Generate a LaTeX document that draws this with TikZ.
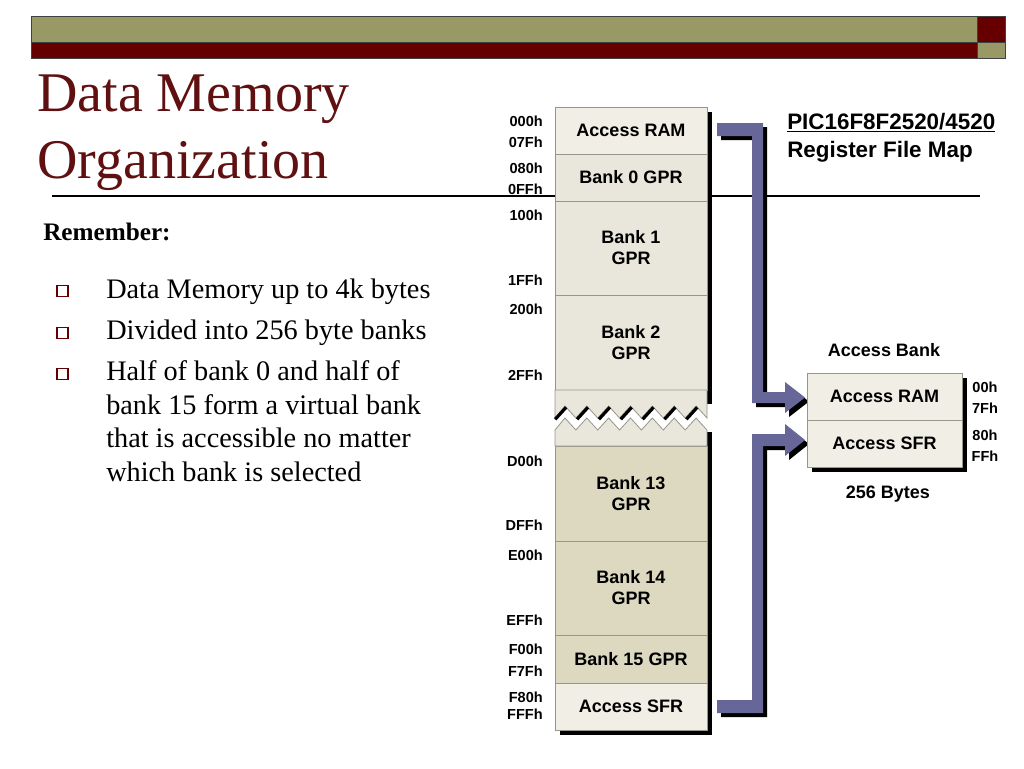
\documentclass[tikz,border=0pt]{standalone}
\usepackage{fontspec}
\setmainfont{Liberation Serif}
\newfontfamily\hv{Liberation Sans}
\usetikzlibrary{calc}
\definecolor{olivebar}{RGB}{153,153,102}
\definecolor{maroonbar}{RGB}{102,0,0}
\definecolor{titlecol}{RGB}{96,16,16}
\definecolor{arrowcol}{RGB}{102,102,153}
\definecolor{cellA}{RGB}{240,238,229}
\definecolor{cellB}{RGB}{233,231,219}
\definecolor{cellC}{RGB}{221,217,193}
\definecolor{divgray}{RGB}{150,150,138}
\tikzset{
  cellbox/.style={draw=divgray, line width=0.6pt, inner sep=0pt, minimum width=114pt,
    font=\hv\bfseries\fontsize{13.5}{15.75}\selectfont, align=center},
  addr/.style={font=\hv\bfseries\fontsize{10.9}{12}\selectfont, anchor=east, inner sep=0pt},
  raddr/.style={font=\hv\bfseries\fontsize{10.9}{12}\selectfont, inner sep=0pt},
  caption/.style={font=\hv\bfseries\fontsize{13.5}{15}\selectfont, inner sep=0pt},
  bullettext/.style={font=\fontsize{21.2}{25}\selectfont, anchor=base west, inner sep=0pt},
  bulletbox/.style={draw=maroonbar, line width=1.1pt, fill=white},
  band/.style={fill=arrowcol},
  bandshadow/.style={fill=black, shift={(4,4)}},
  barline/.style={draw=black!75, line width=0.7pt}
}
\begin{document}
\begin{tikzpicture}[x=0.75pt,y=-0.75pt]
\useasboundingbox (0,0) rectangle (1024,768);
% top bars
\fill[olivebar] (31,16) rectangle (977,42);
\fill[maroonbar] (31,42) rectangle (977,58);
\fill[maroonbar] (977,16) rectangle (1005,42);
\fill[olivebar] (977,42) rectangle (1005,58);
\draw[barline] (31,16) rectangle (1005,58);
\draw[barline] (31,42) -- (1005,42);
\draw[barline] (977,16) -- (977,58);
% title
\node[anchor=base west, inner sep=0pt, text=titlecol, font=\fontsize{42}{42}\selectfont] (t1) at (37,111) {Data Memory};
\node[anchor=base west, inner sep=0pt, text=titlecol, font=\fontsize{42}{42}\selectfont] (t2) at (37,178) {Organization};
\draw[line width=0.9pt] (52,196) -- (980,196);
% left text
\node[anchor=base west, inner sep=0pt, font=\bfseries\fontsize{18.9}{20}\selectfont] (rem) at (43,240) {Remember:};
\draw[bulletbox] (57,285.5) rectangle (68,296.5);
\draw[bulletbox] (57,327.5) rectangle (68,338.5);
\draw[bulletbox] (57,368.5) rectangle (68,379.5);
\node[bullettext] (l1) at (106,298) {Data Memory up to 4k bytes};
\node[bullettext] (l2) at (106,339) {Divided into 256 byte banks};
\node[bullettext] (l3) at (106,380) {Half of bank 0 and half of};
\node[bullettext] (l4) at (106,414) {bank 15 form a virtual bank};
\node[bullettext] (l5) at (106,447) {that is accessible no matter};
\node[bullettext] (l6) at (106,481) {which bank is selected};
% column shadow
\fill[black] (560,112) rectangle (712,735);
\fill[white] (550,404) rectangle (716,432);
% cells
\node[cellbox, fill=cellA, minimum height=35.25pt] (ar) at (631,130.5) {Access RAM};
\node[cellbox, fill=cellB, minimum height=35.25pt] (b0) at (631,177.5) {Bank 0 GPR};
\node[cellbox, fill=cellB, minimum height=70.5pt] (b1) at (631,248) {Bank 1\\GPR};
\node[cellbox, fill=cellB, minimum height=71.25pt] (b2) at (631,342.5) {Bank 2\\GPR};
\node[cellbox, fill=cellC, minimum height=71.25pt] (b13) at (631,493.5) {Bank 13\\GPR};
\node[cellbox, fill=cellC, minimum height=70.5pt] (b14) at (631,588) {Bank 14\\GPR};
\node[cellbox, fill=cellC, minimum height=36pt] (b15) at (631,659) {Bank 15 GPR};
\node[cellbox, fill=cellA, minimum height=35.25pt] (sfr) at (631,706.5) {Access SFR};
% broken section
\filldraw[fill=cellB, draw=divgray, line width=0.6pt] (555,390) -- (707,390) -- (707,418)
  -- (696.07,406) -- (685.14,418) -- (674.21,406) -- (663.29,418) -- (652.36,406)
  -- (641.43,418) -- (630.5,406) -- (619.57,418) -- (608.64,406) -- (597.71,418)
  -- (586.79,406) -- (575.86,418) -- (564.93,406) -- (555,418) -- cycle;
\filldraw[fill=cellB, draw=divgray, line width=0.6pt] (555,446) -- (555,430)
  -- (564.93,418) -- (575.86,430) -- (586.79,418) -- (597.71,430) -- (608.64,418)
  -- (619.57,430) -- (630.5,418) -- (641.43,430) -- (652.36,418) -- (663.29,430)
  -- (674.21,418) -- (685.14,430) -- (696.07,418) -- (707,430) -- (707,446) -- cycle;
\foreach \k in {0,...,6} {
  \draw[line width=2.4pt] ({555.2+21.857*\k},419.3) -- ({566.1+21.857*\k},407.3);
}
% addresses
\node[addr] (a000) at (543,121) {000h};
\node[addr] (a07f) at (543,142) {07Fh};
\node[addr] (a080) at (543,168) {080h};
\node[addr] (a0ff) at (543,189) {0FFh};
\node[addr] (a100) at (543,215) {100h};
\node[addr] (a1ff) at (543,280) {1FFh};
\node[addr] (a200) at (543,309) {200h};
\node[addr] (a2ff) at (543,375) {2FFh};
\node[addr] (ad00) at (543,461) {D00h};
\node[addr] (adff) at (543,525) {DFFh};
\node[addr] (ae00) at (543,555) {E00h};
\node[addr] (aeff) at (543,620) {EFFh};
\node[addr] (af00) at (543,649) {F00h};
\node[addr] (af7f) at (543,671) {F7Fh};
\node[addr] (af80) at (543,697) {F80h};
\node[addr] (afff) at (543,714) {FFFh};
% arrows
\fill[bandshadow] (717,123) -- (763,123) -- (763,392) -- (785,392) -- (785,382) -- (805,397.5)
  -- (785,413) -- (785,403) -- (752,403) -- (752,136) -- (717,136) -- cycle;
\fill[band] (717,123) -- (763,123) -- (763,392) -- (785,392) -- (785,382) -- (805,397.5)
  -- (785,413) -- (785,403) -- (752,403) -- (752,136) -- (717,136) -- cycle;
\fill[bandshadow] (717,713) -- (763,713) -- (763,446) -- (785,446) -- (785,456) -- (805,440)
  -- (785,424) -- (785,434) -- (752,434) -- (752,700) -- (717,700) -- cycle;
\fill[band] (717,713) -- (763,713) -- (763,446) -- (785,446) -- (785,456) -- (805,440)
  -- (785,424) -- (785,434) -- (752,434) -- (752,700) -- (717,700) -- cycle;
% access bank
\fill[black] (812,378) rectangle (967,472);
\node[cellbox, fill=cellA, minimum width=116.25pt, minimum height=35.25pt] (abr) at (884.5,396.5) {Access RAM};
\node[cellbox, fill=cellA, minimum width=116.25pt, minimum height=35.25pt] (abs) at (884.5,443.5) {Access SFR};
\node[caption] (abt) at (884,350) {Access Bank};
\node[caption] (abb) at (888,494) {256 Bytes};
\node[raddr] (r00) at (985,387) {00h};
\node[raddr] (r7f) at (985,408) {7Fh};
\node[raddr] (r80) at (985,435) {80h};
\node[raddr] (rff) at (985,456) {FFh};
% map title
\node[anchor=base west, inner sep=0pt, font=\hv\bfseries\fontsize{16.8}{18}\selectfont] (pic) at (787,129) {\underline{PIC16F8F2520/4520}};
\node[anchor=base west, inner sep=0pt, font=\hv\bfseries\fontsize{16.8}{18}\selectfont] (rfm) at (787,157) {Register File Map};
\end{tikzpicture}
\end{document}
